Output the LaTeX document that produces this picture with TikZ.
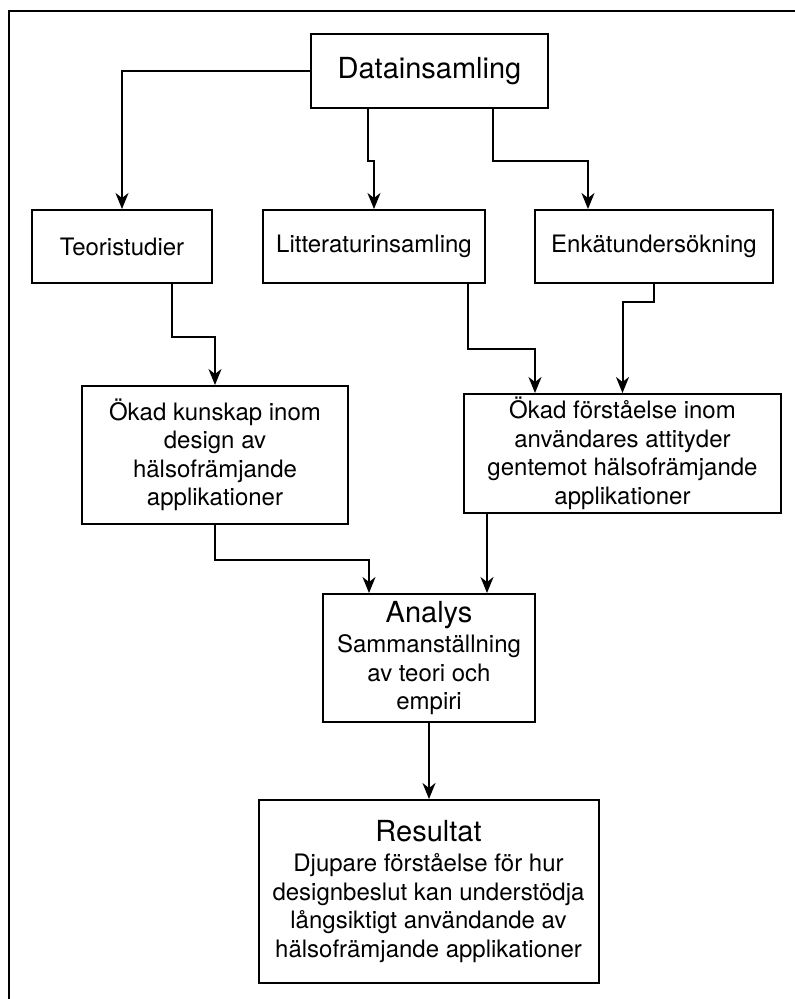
\documentclass[tikz,border=0pt]{standalone}
\usepackage{fontspec}
\setmainfont{TeX Gyre Heros}
\usetikzlibrary{arrows.meta}

\tikzset{
    flowbox/.style={draw, line width=2pt, inner sep=0pt, align=center,
        font=\fontsize{24}{28.5}\selectfont},
    flowarrow/.style={line width=2pt,
        -{Stealth[length=16pt, width=13pt, inset=5pt]}},
}
\newcommand{\boxtitle}[1]{{\fontsize{29}{30}\selectfont #1}}

\begin{document}
\begin{tikzpicture}[x=1pt, y=-1pt]
    \useasboundingbox (0,0) rectangle (795,999);
    \draw[line width=2.4pt] (9,999) -- (9,11) -- (795,11);

    \node[flowbox, minimum width=237pt, minimum height=74pt] (datain) at (429.5,71)
        {\boxtitle{Datainsamling}};
    \node[flowbox, minimum width=180pt, minimum height=73pt] (teori) at (122,246.5)
        {Teoristudier};
    \node[flowbox, minimum width=222pt, minimum height=73pt] (litt) at (374,246.5)
        {Litteraturinsamling};
    \node[flowbox, minimum width=238pt, minimum height=73pt] (enkat) at (654,246.5)
        {Enkätundersökning};
    \node[flowbox, minimum width=266pt, minimum height=138pt] (kunskap) at (215,455)
        {Ökad kunskap inom\\design av\\hälsofrämjande\\applikationer};
    \node[flowbox, minimum width=317pt, minimum height=119pt] (forst) at (622.5,453.5)
        {Ökad förståelse inom\\användares attityder\\gentemot hälsofrämjande\\applikationer};
    \node[flowbox, minimum width=212pt, minimum height=128pt] (analys) at (429,658)
        {\boxtitle{Analys}\\[2pt]Sammanställning\\av teori och\\empiri};
    \node[flowbox, minimum width=340pt, minimum height=183pt] (resultat) at (428.5,891.5)
        {\boxtitle{Resultat}\\[2pt]Djupare förståelse för hur\\designbeslut kan understödja\\långsiktigt användande av\\hälsofrämjande applikationer};

    \draw[flowarrow] (datain.west) -| (teori.north);
    \draw[flowarrow] ([xshift=-61.5pt]datain.south) -- ++(0,52) -| (litt.north);
    \draw[flowarrow] ([xshift=63.5pt]datain.south) -- ++(0,52) -| ([xshift=-66pt]enkat.north);
    \draw[flowarrow] ([xshift=50pt]teori.south) -- ++(0,53) -| (kunskap.north);
    \draw[flowarrow] ([xshift=94pt]litt.south) -- ++(0,65) -| ([xshift=-87.5pt]forst.north);
    \draw[flowarrow] (enkat.south) -- ++(0,18) -| (forst.north);
    \draw[flowarrow] (kunskap.south) -- ++(0,35) -| ([xshift=-60pt]analys.north);
    \draw[flowarrow] ([xshift=-135.5pt]forst.south) -- ([xshift=-135.5pt]forst.south |- analys.north);
    \draw[flowarrow] (analys.south) -- (analys.south |- resultat.north);
\end{tikzpicture}
\end{document}
